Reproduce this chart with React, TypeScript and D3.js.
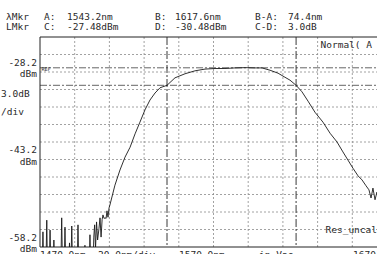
import React from "react";
import * as d3 from "d3";

// optical spectrum, 1470-1670 nm, 3 dB/div
const noiseNm = [
  1470.0, 1471.2, 1471.7, 1472.2, 1473.4, 1473.9, 1474.3, 1475.3, 1475.8, 1476.3, 1477.5, 1478.0, 1478.5,
  1482.0, 1482.5, 1483.0, 1483.9, 1484.4, 1484.9, 1486.5, 1487.0, 1487.5, 1487.8, 1488.3, 1488.8, 1491.4,
  1491.9, 1492.4, 1495.4, 1495.9, 1496.4, 1498.3, 1498.8, 1499.3, 1500.5, 1501.0, 1501.5, 1502.0, 1502.6,
  1503.2, 1504.0, 1504.6, 1505.2, 1505.8, 1506.3, 1506.9, 1507.5, 1508.1, 1508.6, 1509.2, 1509.8,
];
const noiseDbm = [
  -62, -62, -55.6, -62, -62, -53.6, -62, -62, -55.3, -62, -62, -57.0, -62,
  -62, -53.2, -62, -62, -54.8, -62, -62, -57.5, -62, -62, -54.6, -62, -62,
  -54.4, -62, -62, -57.9, -62, -62, -56.1, -62, -62, -56.5, -54.4, -58.5, -53.9,
  -57.0, -55.0, -53.2, -56.5, -53.5, -52.7, -53.3, -53.2, -53.3, -52.0, -53.1, -51.5,
];
const traceNm = [
  1510.3, 1513.2, 1516.1, 1519.0, 1521.9, 1524.8, 1527.6, 1530.5, 1533.4, 1536.3, 1539.2, 1543.2,
  1547.8, 1553.6, 1559.3, 1565.1, 1570.9, 1576.6, 1582.4, 1588.2, 1593.9, 1598.0, 1602.6, 1607.2,
  1611.2, 1614.1, 1617.6, 1621.0, 1624.5, 1628.5, 1633.1, 1637.2, 1641.2, 1644.6, 1647.5, 1650.4,
  1653.3, 1655.6, 1657.9, 1659.6, 1660.8, 1661.9, 1663.1, 1664.2, 1665.5, 1667.0, 1668.5, 1670.0,
];
const traceDbm = [
  -51.0, -47.6, -45.0, -42.8, -41.1, -38.8, -36.8, -34.7, -33.0, -31.8, -30.9, -30.48,
  -29.2, -28.5, -28.0, -27.7, -27.6, -27.6, -27.5, -27.45, -27.5, -27.5, -27.9, -28.4,
  -29.1, -29.6, -30.48, -31.6, -33.2, -35.1, -36.8, -38.7, -40.2, -41.9, -43.3, -44.7,
  -46.0, -46.7, -47.7, -48.4, -49.8, -48.1, -50.1, -48.8, -50.4, -49.6, -51.0, -50.5,
];
const markerNm = [1543.2, 1617.6];
const markerDbm = [-27.48, -30.48];
const refDbm = -28.2;
const yLabels = ["-28.2", "-43.2", "-58.2"];
const yLabelDbm = [-28.2, -43.2, -58.2];

const W = 377;
const H = 254;
const left = 40;
const right = 387;
const top = 37;
const bottom = 247;
const font = "'DejaVu Sans Mono', monospace";
const ink = "#2a2a2a";

export default function App() {
  const x = d3.scaleLinear().domain([1470, 1670]).range([left, right]);
  const y = d3.scaleLinear().domain([-58.2, -22.2]).range([bottom, top]);
  const xTicks = d3.range(1470, 1670.1, 20);
  const yTicks = d3.range(-58.2, -22.1, 3);

  const line = d3
    .line<number>()
    .x((d) => x(d))
    .y((d, i) => 0);

  const pts: [number, number][] = [
    ...noiseNm.map((n, i) => [n, noiseDbm[i]] as [number, number]),
    ...traceNm.map((n, i) => [n, traceDbm[i]] as [number, number]),
  ];
  const tracePath = d3
    .line<[number, number]>()
    .x((d) => x(d[0]))
    .y((d) => y(d[1]))(pts);
  void line;

  const txt = (s: string, tx: number, ty: number, anchor: string = "start", size = 9.5) => (
    <text x={tx} y={ty} textAnchor={anchor as any} fontSize={size} fontFamily={font} fill={ink}>
      {s}
    </text>
  );

  return (
    <div style={{ position: "fixed", left: 0, top: 0, width: W, height: H, background: "#fff" }}>
      <svg width={W} height={H} style={{ display: "block", overflow: "hidden" }}>
        <defs>
          <clipPath id="plot">
            <rect x={left} y={top} width={right - left} height={bottom - top} />
          </clipPath>
        </defs>

        {/* header */}
        {txt("λMkr", 6, 19.5)}
        {txt("A:", 44, 19.5)}
        {txt("1543.2nm", 67, 19.5)}
        {txt("B:", 155, 19.5)}
        {txt("1617.6nm", 175, 19.5)}
        {txt("B-A:", 255, 19.5)}
        {txt("74.4nm", 288, 19.5)}
        {txt("LMkr", 6, 29.5)}
        {txt("C:", 44, 29.5)}
        {txt("-27.48dBm", 67, 29.5)}
        {txt("D:", 155, 29.5)}
        {txt("-30.48dBm", 175, 29.5)}
        {txt("C-D:", 255, 29.5)}
        {txt("3.0dB", 288, 29.5)}

        {/* grid */}
        {xTicks.slice(1).map((t) => (
          <line key={"gx" + t} x1={x(t)} x2={x(t)} y1={top} y2={bottom} stroke="#8a8a8a" strokeWidth={0.8} strokeDasharray="2 2" />
        ))}
        {yTicks.slice(1, -1).map((t) => (
          <line key={"gy" + t} x1={left} x2={right} y1={y(t)} y2={y(t)} stroke="#8a8a8a" strokeWidth={0.8} strokeDasharray="2 2" />
        ))}

        {/* markers */}
        {markerDbm.map((m) => (
          <line key={"mh" + m} x1={left} x2={right} y1={y(m)} y2={y(m)} stroke="#555" strokeWidth={0.9} strokeDasharray="7 2 2 2" />
        ))}
        {markerNm.map((m) => (
          <line key={"mv" + m} x1={x(m)} x2={x(m)} y1={top} y2={bottom} stroke="#222" strokeWidth={0.9} strokeDasharray="8 2 2 2" />
        ))}

        {/* frame */}
        <line x1={left} x2={right} y1={top} y2={top} stroke="#222" strokeWidth={1} />
        <line x1={left} x2={right} y1={bottom} y2={bottom} stroke="#222" strokeWidth={1} />
        <line x1={left} x2={left} y1={top} y2={bottom} stroke="#222" strokeWidth={1} />

        <path d={tracePath || ""} fill="none" stroke="#1a1a1a" strokeWidth={0.9} clipPath="url(#plot)" />

        <text x={left + 1.5} y={y(refDbm) - 1} fontSize={5} fontFamily={font} fill={ink}>REF</text>

        {/* y labels */}
        {yLabels.map((l, i) => (
          <g key={l}>
            {txt(l, 37, y(yLabelDbm[i]) - 6.5, "end")}
            {txt("dBm", 37, y(yLabelDbm[i]) + 5, "end")}
          </g>
        ))}
        {txt("3.0dB", 1, 97)}
        {txt("/div", 1, 115)}

        {txt("Normal( A", 372, 48, "end")}
        {txt("Res_uncal", 377, 233, "end")}

        {/* bottom labels */}
        {txt("1470.0nm", 40, 257.5)}
        {txt("20.0nm/div", 98, 257.5)}
        {txt("1570.0nm", 179, 257.5)}
        {txt("in Vac", 259, 257.5)}
        {txt("1670.0nm", 353, 257.5)}
      </svg>
    </div>
  );
}
